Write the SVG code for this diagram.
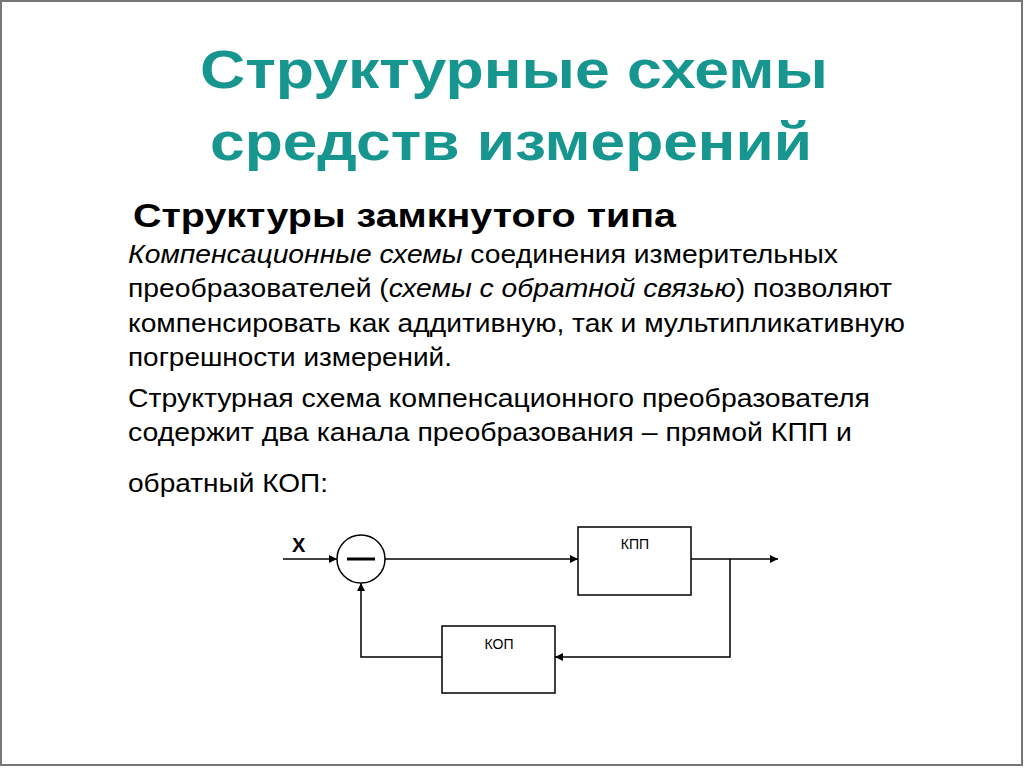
<svg xmlns="http://www.w3.org/2000/svg" width="1024" height="768" viewBox="0 0 1024 768">
<style>
.title{font-family:"Liberation Sans",Arial,sans-serif;font-weight:bold;font-size:54px;fill:#17968f}
.head{font-family:"Liberation Sans",Arial,sans-serif;font-weight:bold;font-size:33px;fill:#000}
.body{font-family:"Liberation Sans",Arial,sans-serif;font-size:25px;fill:#000}
.it{font-style:italic}
.lbl{font-family:"Liberation Sans",Arial,sans-serif;font-size:14px;fill:#000}
.box{fill:#fff;stroke:#000;stroke-width:1.5}
.ln{fill:none;stroke:#000;stroke-width:1.5}
</style>
<defs>
<marker id="ah" viewBox="0 0 10 10" refX="10" refY="5" markerWidth="8" markerHeight="8" markerUnits="userSpaceOnUse" orient="auto">
<path d="M0,0 L10,5 L0,10 z" fill="#000"/>
</marker>
</defs>
<rect x="0" y="0" width="1024" height="768" fill="#fff"/>
<rect x="1" y="1" width="1021" height="764" fill="none" stroke="#777" stroke-width="2"/>
<text class="title" x="200" y="88" textLength="628" lengthAdjust="spacingAndGlyphs">Структурные схемы</text>
<text class="title" x="210" y="160" textLength="602" lengthAdjust="spacingAndGlyphs">средств измерений</text>
<text class="head" x="133" y="227" textLength="543" lengthAdjust="spacingAndGlyphs">Структуры замкнутого типа</text>
<text class="body" x="128" y="263" textLength="710" lengthAdjust="spacingAndGlyphs"><tspan class="it">Компенсационные схемы</tspan> соединения измерительных</text>
<text class="body" x="128" y="297" textLength="764" lengthAdjust="spacingAndGlyphs">преобразователей (<tspan class="it">схемы с обратной связью</tspan>) позволяют</text>
<text class="body" x="128" y="332" textLength="777" lengthAdjust="spacingAndGlyphs">компенсировать как аддитивную, так и мультипликативную</text>
<text class="body" x="128" y="366" textLength="324" lengthAdjust="spacingAndGlyphs">погрешности измерений.</text>
<text class="body" x="128" y="407" textLength="742" lengthAdjust="spacingAndGlyphs">Структурная схема компенсационного преобразователя</text>
<text class="body" x="128" y="441" textLength="724" lengthAdjust="spacingAndGlyphs">содержит два канала преобразования – прямой КПП и</text>
<text class="body" x="128" y="492" textLength="200" lengthAdjust="spacingAndGlyphs">обратный КОП:</text>
<g id="connectors">
<line class="ln" x1="283" y1="559" x2="337" y2="559" marker-end="url(#ah)"/>
<line class="ln" x1="385" y1="559" x2="578" y2="559" marker-end="url(#ah)"/>
<line class="ln" x1="691" y1="559" x2="778" y2="559" marker-end="url(#ah)"/>
<polyline class="ln" points="730,559 730,657 555,657" marker-end="url(#ah)"/>
<polyline class="ln" points="442,657 361,657 361,583" marker-end="url(#ah)"/>
</g>
<g id="input">
<text x="292" y="552" font-family="Liberation Sans,Arial,sans-serif" font-weight="bold" font-size="20">X</text>
</g>
<g id="sum">
<circle cx="361" cy="559" r="24" fill="#fff" stroke="#000" stroke-width="1.5"/>
<line x1="347" y1="559" x2="375" y2="559" stroke="#000" stroke-width="3"/>
</g>
<g id="kpp">
<rect class="box" x="578" y="527" width="113" height="68"/>
<text class="lbl" x="635" y="549" text-anchor="middle">КПП</text>
</g>
<g id="kop">
<rect class="box" x="442" y="626" width="113" height="67"/>
<text class="lbl" x="499" y="649" text-anchor="middle">КОП</text>
</g>
</svg>
